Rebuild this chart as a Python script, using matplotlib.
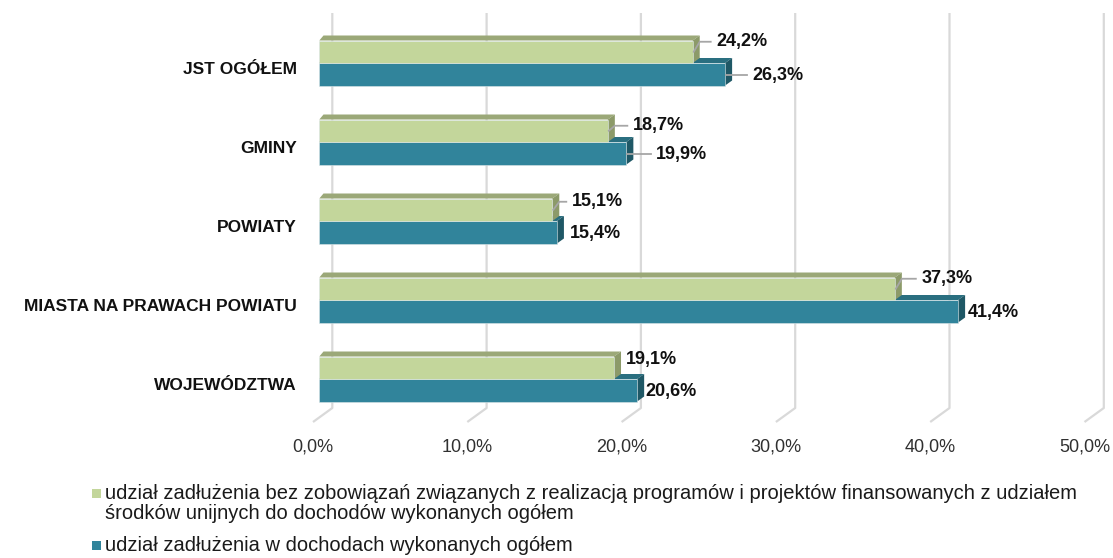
import matplotlib
matplotlib.use("Agg")
import matplotlib.pyplot as plt
from matplotlib.patches import Polygon, Rectangle
import numpy as np

plt.rcParams['font.family'] = ['Liberation Sans', 'DejaVu Sans']

# data
categories = ["JST OGÓŁEM", "GMINY", "POWIATY", "MIASTA NA PRAWACH POWIATU", "WOJEWÓDZTWA"]
bez_unijnych = [24.2, 18.7, 15.1, 37.3, 19.1]
w_dochodach = [26.3, 19.9, 15.4, 41.4, 20.6]
xticks = [0, 10, 20, 30, 40, 50]
legend_labels = [
    "udział zadłużenia bez zobowiązań związanych z realizacją programów i projektów finansowanych z udziałem\nśrodków unijnych do dochodów wykonanych ogółem",
    "udział zadłużenia w dochodach wykonanych ogółem",
]

# colours (front, top, side)
green = ("#C3D69B", "#9BA878", "#8C9A69")
blue = ("#31849B", "#2A6F80", "#1F5866")

W, H = 1113, 558
fig = plt.figure(figsize=(W / 100, H / 100), dpi=100)

# axes placed so that bar fronts start at x=319 px (0 %), 15.43 px per 1 %
x0_px, px_per_pct = 319.3, 15.43
xmin, xmax = -1, 50
left_px = x0_px + xmin * px_per_pct
right_px = x0_px + xmax * px_per_pct
top_px, bot_px = 13, 422
ax = fig.add_axes([left_px / W, 1 - bot_px / H, (right_px - left_px) / W, (bot_px - top_px) / H])
spacing = 79.0
c0 = 63.0
ylim = ((bot_px - c0) / spacing, (top_px - c0) / spacing)
ax.set_autoscale_on(False)
for s in ax.spines.values():
    s.set_visible(False)

px = 1 / px_per_pct   # data x per pixel
py = 1 / spacing      # data y per pixel

# back wall gridlines + floor
back_dx, floor_dx, floor_dy = 13 * px, -6.3 * px, 14 * py
y_top, y_bot = ylim[1], ylim[0]
for t in xticks:
    ax.plot([t + back_dx, t + back_dx, t + floor_dx],
            [y_top, y_bot - floor_dy, y_bot],
            color="#D9D9D9", lw=1.6, zorder=0, solid_capstyle="butt", clip_on=False)

h = 22.5 * py
ddx, ddy = 7 * px, 5 * py


def bar3d(yc, v, cols):
    top, bot = yc - h / 2, yc + h / 2
    ax.add_patch(Polygon([(0, top), (v, top), (v + ddx, top - ddy), (ddx * 0.6, top - ddy)],
                         closed=True, fc=cols[1], ec="none", zorder=2))
    ax.add_patch(Polygon([(v, top), (v + ddx, top - ddy), (v + ddx, bot - ddy), (v, bot)],
                         closed=True, fc=cols[2], ec="none", zorder=2))
    ax.barh(yc, v, height=h, color=cols[0], edgecolor="#DCE6E8", linewidth=0.4, zorder=3)


ypos = np.arange(len(categories))
for i in ypos:
    bar3d(i + h / 2, w_dochodach[i], blue)
    bar3d(i - h / 2, bez_unijnych[i], green)

# data labels: start offset from bar end (px), vertical offset (px)
g_off = [24, 25.5, 20, 27, 12]
g_dy = [-10, -5, -8, -10, -8]
b_off = [27, 30, 13, 10, 8]
b_dy = [1, 1, 1, 1, 1]
lbl_font = dict(fontsize=13, fontweight="bold", color="#111111", va="center", ha="left", zorder=5)
for i in ypos:
    v = bez_unijnych[i]
    yc = i - h / 2
    ly = yc + g_dy[i] * py
    lx = v + g_off[i] * px
    ax.text(lx, ly, f"{v:.1f}%".replace(".", ","), **lbl_font)
    if g_off[i] > 15:
        ax.plot([v + 1 * px, v + 7 * px, lx - 6 * px], [yc, ly, ly],
                color="#A6A6A6", lw=1.3, zorder=4)
    v = w_dochodach[i]
    yc = i + h / 2
    ly = yc + b_dy[i] * py
    lx = v + b_off[i] * px
    ax.text(lx, ly, f"{v:.1f}%".replace(".", ","), **lbl_font)
    if b_off[i] > 15:
        ax.plot([v + 1 * px, lx - 5 * px], [ly, ly], color="#A6A6A6", lw=1.3, zorder=4)

# axis labels
ax.set_yticks(ypos + 5 * py, categories)
ax.tick_params(axis="y", length=0, pad=5, labelsize=12.5)
for lab in ax.get_yticklabels():
    lab.set_fontweight("bold")
    lab.set_color("#111111")
ax.set_xticks(np.array(xticks) + floor_dx, [f"{t:.1f}%".replace(".", ",") for t in xticks])
ax.tick_params(axis="x", length=0, pad=12, labelsize=13, labelcolor="#303030")
ax.set_xlim(xmin, xmax)
ax.set_ylim(*ylim)

# legend drawn by hand so the square sits on the first line
leg_y = [493, 545]
for lab, y, col in zip(legend_labels, leg_y, [green[0], blue[0]]):
    fig.patches.append(Rectangle((92 / W, 1 - (y + 4.5) / H), 9 / W, 9 / H,
                                 transform=fig.transFigure, fc=col, ec="none"))
    fig.text(105 / W, 1 - (y - 9) / H, lab, fontsize=14.5, color="#1A1A1A",
             va="top", ha="left", linespacing=1.08)

fig.savefig("out.png", dpi=100)
